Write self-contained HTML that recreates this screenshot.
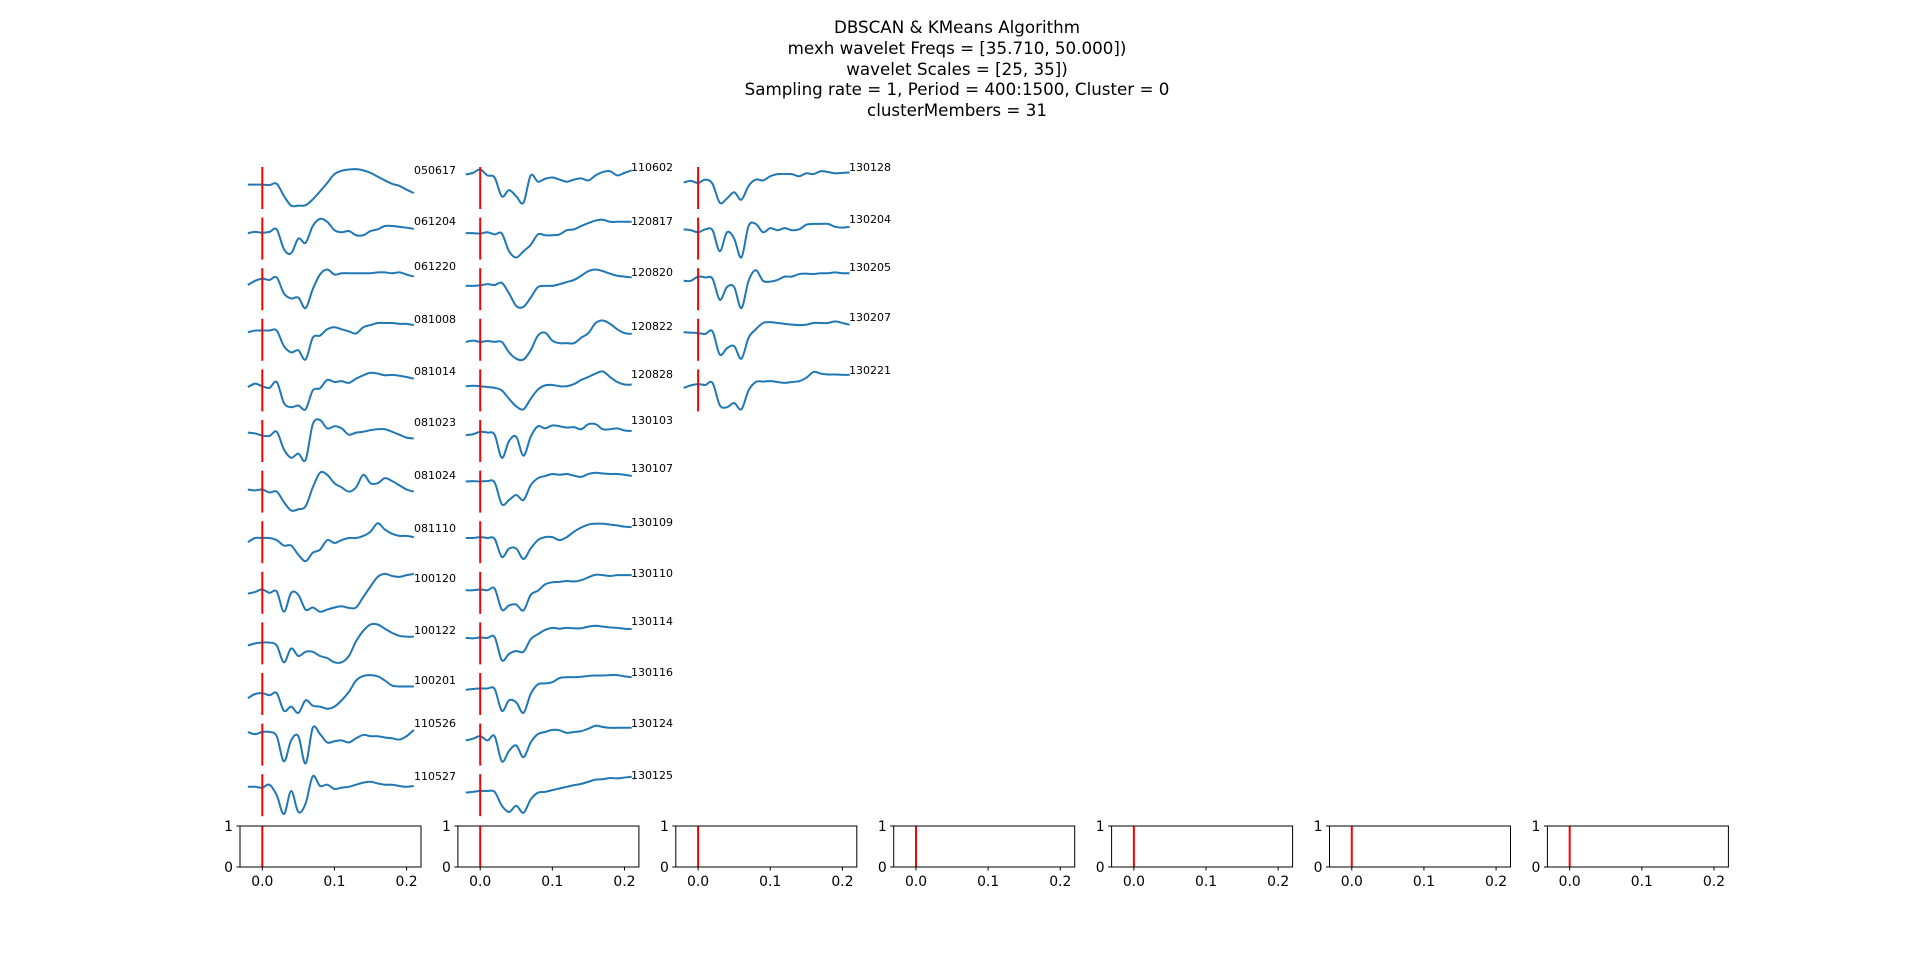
<!DOCTYPE html>
<html><head><meta charset="utf-8"><style>
html,body{margin:0;padding:0;background:#fff;}
svg{display:block;font-family:"DejaVu Sans","Liberation Sans",sans-serif;}
</style></head><body>
<svg id="fig" width="1920" height="974" viewBox="0 0 1920 974">
<g font-size="16.7" text-anchor="middle" fill="#000">
<text x="957" y="33">DBSCAN &amp; KMeans Algorithm</text>
<text x="957" y="54">mexh wavelet Freqs = [35.710, 50.000])</text>
<text x="957" y="75">wavelet Scales = [25, 35])</text>
<text x="957" y="95">Sampling rate = 1, Period = 400:1500, Cluster = 0</text>
<text x="957" y="116">clusterMembers = 31</text>
</g>
<g id="waves"></g>
<g id="axes"></g>
</svg>
<script>
// ---- data ----
const timeStart = -0.02;
const timeStep = 0.01;
const eventNames = ["050617","061204","061220","081008","081014","081023","081024","081110","100120","100122","100201","110526","110527",
"110602","120817","120820","120822","120828","130103","130107","130109","130110","130114","130116","130124","130125",
"130128","130204","130205","130207","130221"];
const columnCounts = [13,13,5];
const markerTime = 0;
const xTicks = [0.0, 0.1, 0.2];
const xTickLabels = ["0.0","0.1","0.2"];
const yTickLabels = ["0","1"];
const w050617=[.58,.58,.58,.57,.6,.31,.08,.08,.09,.23,.42,.62,.83,.91,.94,.95,.92,.86,.77,.68,.6,.55,.46,.38];
const w061204=[.63,.66,.64,.66,.72,.25,.15,.5,.4,.8,.97,.9,.7,.65,.68,.58,.58,.68,.72,.8,.8,.78,.76,.73];
const w061220=[.6,.7,.75,.72,.78,.4,.28,.3,.05,.5,.85,.97,.85,.88,.88,.88,.88,.88,.9,.9,.88,.9,.85,.8];
const w081008=[.68,.72,.72,.72,.72,.35,.2,.25,.03,.55,.6,.75,.8,.75,.7,.65,.8,.85,.9,.9,.9,.88,.88,.85];
const w081014=[.58,.66,.6,.56,.7,.2,.1,.14,.05,.5,.55,.75,.7,.72,.68,.78,.86,.92,.9,.86,.87,.85,.82,.78];
const w081023=[.7,.68,.63,.62,.72,.3,.1,.2,.05,.9,1,.8,.85,.8,.65,.7,.72,.76,.78,.78,.72,.65,.58,.56];
const w081024=[.55,.53,.55,.48,.5,.25,.05,.08,.15,.6,.95,.9,.7,.6,.5,.6,.9,.7,.7,.82,.75,.65,.55,.5];
const w081110=[.5,.6,.6,.6,.55,.42,.42,.2,.05,.25,.32,.55,.48,.55,.6,.6,.65,.75,.95,.8,.7,.65,.65,.62];
const w100120=[.48,.52,.58,.5,.53,.05,.5,.45,.1,.15,.05,.1,.15,.18,.14,.15,.4,.65,.88,.95,.9,.88,.92,.95];
const w100122=[.45,.5,.52,.52,.45,.05,.38,.2,.3,.3,.2,.15,.05,.05,.2,.55,.8,.95,.95,.85,.75,.68,.66,.66];
const w100201=[.4,.5,.52,.47,.52,.1,.2,.05,.35,.22,.2,.15,.2,.35,.55,.82,.93,.95,.92,.82,.7,.68,.68,.68];
const w110526=[.8,.75,.8,.8,.7,.1,.6,.7,.05,.9,.75,.55,.58,.6,.55,.65,.73,.7,.7,.67,.65,.62,.7,.85];
const w110527=[.7,.7,.68,.75,.5,.05,.6,.1,.3,.95,.72,.75,.65,.68,.7,.75,.8,.82,.78,.75,.75,.72,.7,.72];
const w110602=[.82,.86,.94,.8,.75,.3,.45,.3,.15,.8,.65,.72,.75,.7,.65,.7,.73,.68,.8,.88,.9,.8,.86,.92];
const w120817=[.63,.63,.62,.65,.6,.62,.2,.05,.2,.35,.6,.58,.58,.6,.7,.72,.8,.87,.93,.95,.9,.9,.9,.9];
const w120820=[.58,.58,.59,.62,.6,.65,.4,.1,.08,.3,.55,.58,.58,.62,.67,.72,.82,.93,.97,.93,.87,.82,.8,.78];
const w120822=[.45,.48,.45,.47,.45,.45,.2,.05,.03,.25,.6,.67,.48,.42,.42,.42,.55,.66,.9,.96,.88,.75,.66,.64];
const w120828=[.6,.61,.6,.58,.56,.5,.3,.12,.05,.3,.52,.62,.63,.6,.6,.65,.75,.82,.9,.95,.82,.7,.64,.64];
const w130103=[.64,.66,.72,.7,.65,.1,.5,.6,.15,.6,.85,.8,.87,.85,.82,.83,.78,.9,.9,.78,.78,.8,.75,.74];
const w130107=[.74,.75,.74,.75,.72,.2,.3,.42,.3,.65,.82,.87,.92,.9,.92,.88,.85,.92,.95,.93,.92,.92,.9,.87];
const w130109=[.6,.6,.62,.6,.58,.15,.35,.35,.1,.35,.55,.62,.62,.55,.62,.75,.85,.92,.94,.94,.92,.9,.87,.86];
const w130110=[.56,.56,.58,.56,.6,.1,.2,.22,.08,.45,.55,.7,.75,.76,.78,.77,.8,.87,.93,.92,.9,.92,.92,.92];
const w130114=[.63,.62,.64,.63,.65,.1,.25,.32,.3,.6,.72,.82,.87,.85,.87,.86,.86,.9,.92,.9,.88,.87,.85,.84];
const w130116=[.6,.62,.63,.63,.62,.1,.35,.3,.05,.5,.73,.75,.78,.88,.9,.9,.91,.93,.94,.94,.95,.95,.92,.9];
const w130124=[.6,.64,.7,.6,.7,.1,.35,.48,.2,.55,.75,.8,.85,.84,.78,.8,.82,.88,.95,.92,.9,.9,.9,.9];
const w130125=[.56,.58,.6,.6,.58,.25,.1,.25,.08,.4,.56,.58,.62,.66,.7,.74,.77,.82,.87,.88,.91,.9,.92,.94];
const w130128=[.63,.67,.62,.7,.6,.15,.25,.4,.22,.55,.7,.68,.78,.83,.83,.83,.78,.85,.83,.9,.88,.85,.86,.87];
const w130204=[.72,.7,.65,.72,.7,.2,.65,.5,.05,.8,.85,.65,.75,.7,.75,.7,.72,.83,.85,.85,.85,.78,.76,.78];
const w130205=[.7,.7,.8,.78,.75,.25,.55,.55,.05,.7,.95,.7,.68,.72,.8,.8,.86,.87,.86,.88,.88,.9,.88,.88];
const w130207=[.68,.67,.66,.64,.7,.15,.3,.35,.05,.55,.75,.9,.92,.9,.88,.86,.85,.86,.9,.9,.9,.94,.9,.86];
const w130221=[.56,.62,.65,.63,.68,.15,.1,.2,.05,.5,.7,.71,.72,.7,.68,.7,.72,.8,.94,.9,.88,.88,.87,.87];
const waveValues = [w050617,w061204,w061220,w081008,w081014,w081023,w081024,w081110,w100120,w100122,w100201,w110526,w110527,
w110602,w120817,w120820,w120822,w120828,w130103,w130107,w130109,w130110,w130114,w130116,w130124,w130125,
w130128,w130204,w130205,w130207,w130221];

// ---- layout ----
const NS="http://www.w3.org/2000/svg";
const axLeft0=240, axPitch=217.9, axW=181, axTop=826, axBot=867;
const tMin=-0.0309, tMax=0.22;
function xScale(col,t){return axLeft0+col*axPitch+(t-tMin)/(tMax-tMin)*axW;}
const rowTop0=167, rowPitch=50.6, panelH=42;
function yScale(row,v){return rowTop0+row*rowPitch+panelH-v*panelH;}
const labelCenters=[[170,221,266,319,371,422,475,528,578,630,680,723,776],
[167,221,272,326,374,420,468,522,573,621,672,723,775],[167,219,267,317,370]];
const labelX=[414,631,849];
function mk(tag,attrs,parent){const e=document.createElementNS(NS,tag);for(const k in attrs)e.setAttribute(k,attrs[k]);parent.appendChild(e);return e;}
function smooth(pts){let d="M"+pts[0][0].toFixed(2)+","+pts[0][1].toFixed(2);
for(let i=0;i<pts.length-1;i++){const p0=pts[Math.max(0,i-1)],p1=pts[i],p2=pts[i+1],p3=pts[Math.min(pts.length-1,i+2)];
const c1=[p1[0]+(p2[0]-p0[0])/6,p1[1]+(p2[1]-p0[1])/6],c2=[p2[0]-(p3[0]-p1[0])/6,p2[1]-(p3[1]-p1[1])/6];
d+=" C"+c1[0].toFixed(2)+","+c1[1].toFixed(2)+" "+c2[0].toFixed(2)+","+c2[1].toFixed(2)+" "+p2[0].toFixed(2)+","+p2[1].toFixed(2);}
return d;}

const wg=document.getElementById('waves');
let idx=0;
for(let c=0;c<columnCounts.length;c++){
  for(let r=0;r<columnCounts[c];r++){
    const vals=waveValues[idx], name=eventNames[idx];
    const g=mk('g',{},wg);
    
    
    const pts=vals.map((v,k)=>[xScale(c,timeStart+k*timeStep),yScale(r,v)]);
    const p=mk('path',{d:smooth(pts),fill:'none',stroke:'#1f77b4','stroke-width':2,'stroke-linejoin':'round'},g);
    
    
    const mx=xScale(c,markerTime);
    const l=mk('line',{x1:mx,x2:mx,y1:yScale(r,1),y2:yScale(r,0),stroke:'#ff0000','stroke-width':2},g);
    
    
    const t=mk('text',{x:labelX[c],y:labelCenters[c][r]+4,'font-size':11,fill:'#000'},g);
    t.textContent=name;
    
    
    idx++;
  }
}
const ag=document.getElementById('axes');
for(let i=0;i<7;i++){
  const g=mk('g',{},ag);
  
  
  const L=axLeft0+i*axPitch;
  const mx=xScale(i,markerTime);
  const ml=mk('line',{x1:mx,x2:mx,y1:axTop,y2:axBot,stroke:'#ff0000','stroke-width':2},g);
  
  
  const rc=mk('rect',{x:L,y:axTop,width:axW,height:axBot-axTop,fill:'none',stroke:'#000','stroke-width':1},g);
  
  
  yTickLabels.forEach((lab,j)=>{
    const y=j===0?axBot:axTop;
    mk('line',{x1:L-3.5,x2:L,y1:y,y2:y,stroke:'#000','stroke-width':1},g);
    const t=mk('text',{x:L-7,y:y+5,'font-size':13.9,'text-anchor':'end',fill:'#000'},g);
    t.textContent=lab;
    
    
  });
  xTicks.forEach((tv,j)=>{
    const x=xScale(i,tv);
    mk('line',{x1:x,x2:x,y1:axBot,y2:axBot+3.5,stroke:'#000','stroke-width':1},g);
    const t=mk('text',{x:x,y:axBot+19,'font-size':13.9,'text-anchor':'middle',fill:'#000'},g);
    t.textContent=xTickLabels[j];
    
    
  });
}
</script>
</body></html>
